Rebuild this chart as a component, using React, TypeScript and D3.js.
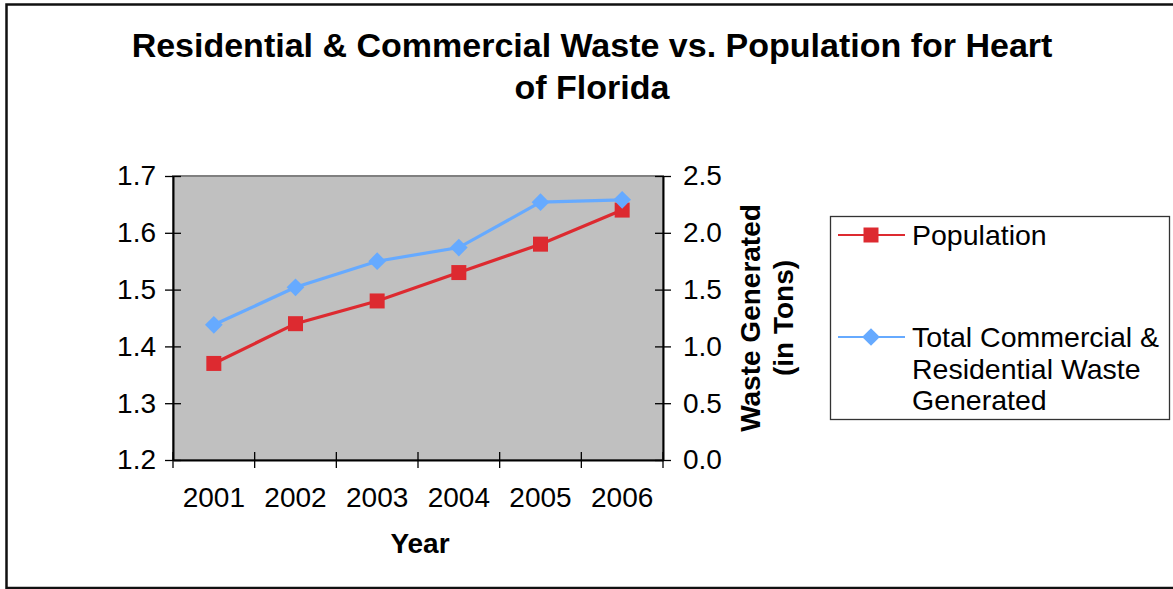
import React, { useEffect, useRef } from 'react';
import * as d3 from 'd3';

const years = ['2001', '2002', '2003', '2004', '2005', '2006'];
const population = [1.37, 1.44, 1.48, 1.53, 1.58, 1.64];
const waste = [1.19, 1.52, 1.75, 1.87, 2.27, 2.29];
const leftTicks = [1.2, 1.3, 1.4, 1.5, 1.6, 1.7];
const rightTicks = [0, 0.5, 1.0, 1.5, 2.0, 2.5];
const titleLines = ['Residential & Commercial Waste vs. Population for Heart', 'of Florida'];
const rightTitleLines = ['Waste Generated', '(in Tons)'];
const legendPop = ['Population'];
const legendWaste = ['Total Commercial &', 'Residential Waste', 'Generated'];

const FONT = '"Liberation Sans", Arial, sans-serif';
const RED = '#DD2A30';
const BLUE = '#66AAFF';

const App = () => {
  const ref = useRef<SVGSVGElement>(null);
  const W = 1173;
  const H = 589;
  const plot = { left: 173, right: 663, top: 176, bottom: 460 };

  useEffect(() => {
    const svg = d3.select(ref.current);
    svg.selectAll('*').remove();

    // outer frame
    svg.append('rect')
      .attr('x', 6.5).attr('y', 4.5)
      .attr('width', 1200).attr('height', 583.5)
      .attr('fill', 'white').attr('stroke', '#111').attr('stroke-width', 2.5);

    // title
    svg.append('g').selectAll('text')
      .data(titleLines)
      .enter()
      .append('text')
      .attr('x', 592)
      .attr('y', (_, i) => 57 + i * 42)
      .attr('text-anchor', 'middle')
      .attr('font-family', FONT)
      .attr('font-weight', 'bold')
      .attr('font-size', 34)
      .text(d => d);

    // SCALES
    const x = d3.scaleBand().domain(years).range([plot.left, plot.right]);
    const yLeft = d3.scaleLinear().domain([1.2, 1.7]).range([plot.bottom, plot.top]);
    const yRight = d3.scaleLinear().domain([0, 2.5]).range([plot.bottom, plot.top]);

    // plot area
    svg.append('rect')
      .attr('x', plot.left).attr('y', plot.top)
      .attr('width', plot.right - plot.left).attr('height', plot.bottom - plot.top)
      .attr('fill', '#C0C0C0').attr('stroke', '#808080').attr('stroke-width', 2);

    // AXES
    const leftAxis = svg.append('g')
      .attr('transform', `translate(${plot.left},0)`)
      .call(d3.axisLeft(yLeft).tickValues(leftTicks).tickFormat(d3.format('.1f')).tickSize(8).tickSizeOuter(0).tickPadding(9));
    const rightAxis = svg.append('g')
      .attr('transform', `translate(${plot.right},0)`)
      .call(d3.axisRight(yRight).tickValues(rightTicks).tickFormat(d3.format('.1f')).tickSize(8).tickSizeOuter(0).tickPadding(12));
    const bottomAxis = svg.append('g')
      .attr('transform', `translate(0,${plot.bottom})`)
      .call(d3.axisBottom(x).tickSize(0).tickPadding(27));

    leftAxis.selectAll('.tick line').attr('x1', 8);
    rightAxis.selectAll('.tick line').attr('x1', -8);
    bottomAxis.selectAll('.tick line').remove();

    [leftAxis, rightAxis, bottomAxis].forEach(a => {
      a.select('.domain').attr('stroke', '#000').attr('stroke-width', 2);
      a.selectAll('.tick line').attr('stroke', '#000').attr('stroke-width', 1.3);
      a.selectAll('text')
        .attr('font-family', FONT)
        .attr('font-size', 28)
        .attr('fill', '#000');
    });

    // category boundary ticks, crossing the axis
    const bounds = [...years.map(d => x(d) as number), plot.right];
    svg.append('g').selectAll('line')
      .data(bounds)
      .enter()
      .append('line')
      .attr('x1', d => d).attr('x2', d => d)
      .attr('y1', plot.bottom - 8).attr('y2', plot.bottom + 8)
      .attr('stroke', '#000').attr('stroke-width', 1.3);

    // axis titles
    svg.append('text')
      .attr('x', 420).attr('y', 553)
      .attr('text-anchor', 'middle')
      .attr('font-family', FONT).attr('font-weight', 'bold').attr('font-size', 28)
      .text('Year');

    svg.append('g').selectAll('text')
      .data(rightTitleLines)
      .enter()
      .append('text')
      .attr('transform', (_, i) => `translate(${760 + i * 33},318) rotate(-90)`)
      .attr('text-anchor', 'middle')
      .attr('font-family', FONT).attr('font-weight', 'bold').attr('font-size', 28)
      .text(d => d);

    // LINES
    const cx = (i: number) => (x(years[i]) as number) + x.bandwidth() / 2;
    const popLine = d3.line<number>().x((_, i) => cx(i)).y(d => yLeft(d));
    const wasteLine = d3.line<number>().x((_, i) => cx(i)).y(d => yRight(d));

    svg.append('path')
      .datum(waste)
      .attr('d', wasteLine)
      .attr('fill', 'none').attr('stroke', BLUE).attr('stroke-width', 3.2);

    svg.append('path')
      .datum(population)
      .attr('d', popLine)
      .attr('fill', 'none').attr('stroke', RED).attr('stroke-width', 3.2);

    const square = d3.symbol().type(d3.symbolSquare).size(225);
    const diamond = d3.symbol().type(d3.symbolDiamond2).size(200);

    svg.append('g').selectAll('path')
      .data(population)
      .enter()
      .append('path')
      .attr('d', square)
      .attr('transform', (d, i) => `translate(${cx(i)},${yLeft(d)})`)
      .attr('fill', RED);

    svg.append('g').selectAll('path')
      .data(waste)
      .enter()
      .append('path')
      .attr('d', diamond)
      .attr('transform', (d, i) => `translate(${cx(i)},${yRight(d)})`)
      .attr('fill', BLUE);

    // LEGEND
    const legend = svg.append('g');
    legend.append('rect')
      .attr('x', 830.5).attr('y', 216.5)
      .attr('width', 339).attr('height', 203)
      .attr('fill', 'white').attr('stroke', '#333').attr('stroke-width', 1.3);

    const entries = [
      { lines: legendPop, color: RED, y: 235, mark: square },
      { lines: legendWaste, color: BLUE, y: 337, mark: diamond },
    ];
    entries.forEach(e => {
      legend.append('line')
        .attr('x1', 838).attr('x2', 905)
        .attr('y1', e.y).attr('y2', e.y)
        .attr('stroke', e.color).attr('stroke-width', 2);
      legend.append('path')
        .attr('d', e.mark)
        .attr('transform', `translate(871,${e.y})`)
        .attr('fill', e.color);
      legend.selectAll(null)
        .data(e.lines)
        .enter()
        .append('text')
        .attr('x', 912)
        .attr('y', (_, i) => e.y + 10 + i * 31.5)
        .attr('font-family', FONT).attr('font-size', 28.5)
        .text(d => d);
    });
  });

  return (
    <svg
      ref={ref}
      width={W}
      height={H}
      style={{ position: 'absolute', left: 0, top: 0, background: 'white' }}
    />
  );
};

export default App;
